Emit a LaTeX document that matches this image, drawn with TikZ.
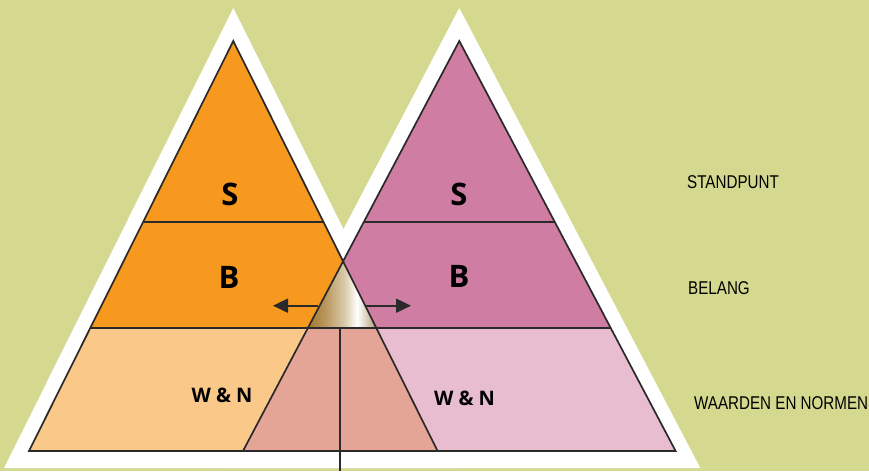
\documentclass[tikz,border=0pt]{standalone}
\usepackage{fontspec}
\usetikzlibrary{calc,arrows.meta}
\newfontfamily\boldlbl{Open Sans}
\newfontfamily\narrowlbl{Liberation Sans}[FakeStretch=0.82]
\definecolor{bgc}{HTML}{D4D98F}
\definecolor{orangec}{HTML}{F7981F}
\definecolor{pinkc}{HTML}{D07DA3}
\definecolor{lorangec}{HTML}{FAC98A}
\definecolor{lpinkc}{HTML}{E8BDD0}
\definecolor{salmonc}{HTML}{E5A596}
\definecolor{linec}{HTML}{2A2A2A}
\definecolor{goldA}{HTML}{A17A2C}
\definecolor{goldB}{HTML}{B8955A}
\definecolor{goldC}{HTML}{DACBAC}
\definecolor{goldD}{HTML}{B49C76}
\pgfdeclarehorizontalshading{goldshade}{100bp}{color(0bp)=(goldA); color(25bp)=(goldA); color(37bp)=(goldB); color(52bp)=(goldC); color(61bp)=(white); color(75bp)=(goldD); color(100bp)=(goldD)}
\tikzset{
  outl/.style={draw=linec, line width=1.7pt, line join=miter},
  bandline/.style={draw=linec, line width=1.7pt},
  bigletter/.style={inner sep=0pt, font=\boldlbl\bfseries\fontsize{31}{31}\selectfont},
  wnletter/.style={inner sep=0pt, font=\boldlbl\bfseries\fontsize{20}{20}\selectfont},
  sidelbl/.style={inner sep=0pt, anchor=base west, text=black, font=\narrowlbl\fontsize{18.5}{18.5}\selectfont},
  arr/.style={draw=linec, line width=2pt, -{Triangle[length=15pt,width=14pt]}}
}
\begin{document}
\begin{tikzpicture}[x=1pt,y=-1pt]
\fill[bgc] (0,0) rectangle (869,471);
\useasboundingbox (0,0) rectangle (869,471);
% outer white triangles
\coordinate (OLA) at (233.3,8);
\coordinate (OLL) at (4,468);
\coordinate (OLR) at (462.6,468);
\coordinate (ORA) at (459.3,8);
\coordinate (ORL) at (218.3,468);
\coordinate (ORR) at (700.3,468);
\fill[white] (OLA) -- (OLL) -- (OLR) -- cycle;
\fill[white] (ORA) -- (ORL) -- (ORR) -- cycle;
% inner triangles
\coordinate (LA) at (233.3,41);
\coordinate (LL) at (29,451);
\coordinate (LR) at (437.6,451);
\coordinate (RA) at (459.3,41);
\coordinate (RL) at (243,451);
\coordinate (RR) at (675.6,451);
\coordinate (L1) at ($(LA)!0.4415!(LL)$);
\coordinate (L1r) at ($(LA)!0.4415!(LR)$);
\coordinate (L2) at ($(LA)!0.6993!(LL)$);
\coordinate (L2r) at ($(LA)!0.6993!(LR)$);
\coordinate (R1) at ($(RA)!0.4415!(RL)$);
\coordinate (R1r) at ($(RA)!0.4415!(RR)$);
\coordinate (R2) at ($(RA)!0.6993!(RL)$);
\coordinate (R2r) at ($(RA)!0.6993!(RR)$);
\coordinate (X) at (intersection of LA--LR and RA--RL);
% fills
\fill[orangec] (LA) -- (L2) -- (L2r) -- cycle;
\fill[lorangec] (L2) -- (LL) -- (LR) -- (L2r) -- cycle;
\fill[pinkc] (RA) -- (R2) -- (R2r) -- cycle;
\fill[lpinkc] (R2) -- (RL) -- (RR) -- (R2r) -- cycle;
\shade[shading=goldshade] (X) -- (R2) -- (L2r) -- cycle;
\fill[salmonc] (R2) -- (RL) -- (LR) -- (L2r) -- cycle;
% outlines
\draw[bandline] (L1) -- (L1r);
\draw[bandline] (R1) -- (R1r);
\draw[bandline] (L2) -- (R2r);
\coordinate (V1) at (340,327.7);
\coordinate (V2) at (340,471);
\draw[draw=linec, line width=1.6pt] (V1) -- (V2);
\draw[outl] (LA) -- (LL) -- (LR) -- cycle;
\draw[outl] (RA) -- (RL) -- (RR) -- cycle;
% arrows
\coordinate (AL0) at (318,305.7);
\coordinate (AL1) at (273,305.7);
\coordinate (AR0) at (366,305.7);
\coordinate (AR1) at (411,305.7);
\draw[arr] (AL0) -- (AL1);
\draw[arr] (AR0) -- (AR1);
% labels
\node[bigletter] (sl) at (230,194) {S};
\node[bigletter] (bl) at (229,277) {B};
\node[wnletter] (wl) at (222,395.5) {W \& N};
\node[bigletter] (sr) at (459,194) {S};
\node[bigletter] (br) at (459,276.5) {B};
\node[wnletter] (wr) at (464.5,398) {W \& N};
\node[sidelbl] (t1) at (687,188) {STANDPUNT};
\node[sidelbl] (t2) at (688,294) {BELANG};
\node[sidelbl] (t3) at (694,409) {WAARDEN EN NORMEN};
\end{tikzpicture}
\end{document}
